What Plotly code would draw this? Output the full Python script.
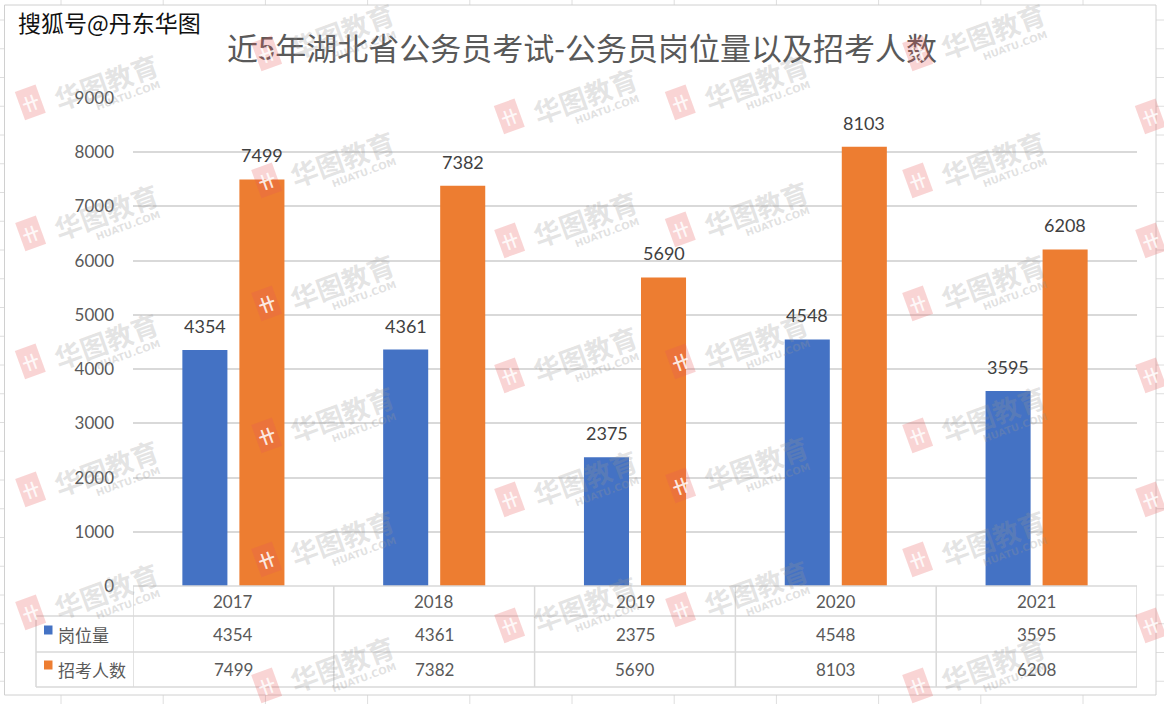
import plotly.graph_objects as go

# ---------------- data ----------------
years = ["2017", "2018", "2019", "2020", "2021"]
posts = [4354, 4361, 2375, 4548, 3595]          # 岗位量
applicants = [7499, 7382, 5690, 8103, 6208]     # 招考人数
series_names = ["岗位量", "招考人数"]
series_colors = ["#4472C4", "#ED7D31"]
y_ticks = [0, 1000, 2000, 3000, 4000, 5000, 6000, 7000, 8000, 9000]
title_text = "近5年湖北省公务员考试-公务员岗位量以及招考人数"
source_text = "搜狐号@丹东华图"
watermark_text = "华图教育"
watermark_sub = "HUATU.COM"

# ---------------- layout constants ----------------
W, H = 1164, 704
L, R, T, B = 133, 27, 98, 118
PW, PH = W - L - R, H - T - B
FONT = "Lato, 'Noto Sans CJK SC', sans-serif"
CJK = "'Noto Sans CJK SC', sans-serif"
GRID = "#d9d9d9"
TEXT = "#595959"


def px_x(px):
    return (px - L) / PW


def px_y(py):
    return (H - B - py) / PH


series = [posts, applicants]
xs = list(range(len(years)))

fig = go.Figure()
for name, vals, col in zip(series_names, series, series_colors):
    fig.add_trace(go.Bar(x=xs, y=vals, name=name, marker=dict(color=col, line=dict(width=0)),
                         hoverinfo="y+name"))

shapes = []
annotations = []


def note(x, y, text, font, xref="paper", yref="paper", **kw):
    d = dict(x=x, y=y, xref=xref, yref=yref, text=text, showarrow=False, font=font,
             xanchor=kw.pop("xanchor", "center"), yanchor=kw.pop("yanchor", "middle"))
    d.update(kw)
    annotations.append(d)


# Excel sheet grid in the background
for k in range(12):
    gx = 61 + 102.2 * k
    shapes.append(dict(type="line", xref="paper", yref="paper", x0=px_x(gx), x1=px_x(gx),
                       y0=px_y(0), y1=px_y(H), line=dict(color="#dedede", width=1), layer="below"))
for k in range(25):
    gy = 20 + 28.75 * k
    shapes.append(dict(type="line", xref="paper", yref="paper", x0=px_x(0), x1=px_x(W),
                       y0=px_y(gy), y1=px_y(gy), line=dict(color="#dedede", width=1), layer="below"))
# chart frame
shapes.append(dict(type="rect", xref="paper", yref="paper", x0=px_x(4.5), x1=px_x(1156),
                   y0=px_y(5), y1=px_y(695), fillcolor="white", line=dict(color="#d0d0d0", width=1),
                   layer="below"))

# data table
row_lines = [586, 616, 652, 687]
for i, ry in enumerate(row_lines):
    if i == 0:
        shapes.append(dict(type="line", xref="x", yref="paper", x0=-0.5, x1=len(years) - 0.5,
                           y0=px_y(ry), y1=px_y(ry), line=dict(color=GRID, width=1.5)))
    else:
        shapes.append(dict(type="line", xref="paper", yref="paper", x0=px_x(36), x1=1,
                           y0=px_y(ry), y1=px_y(ry), line=dict(color=GRID, width=1.5)))
for k in range(len(years) + 1):
    shapes.append(dict(type="line", xref="x", yref="paper", x0=k - 0.5, x1=k - 0.5,
                       y0=px_y(586), y1=px_y(687), line=dict(color=GRID, width=1.5)))
shapes.append(dict(type="line", xref="paper", yref="paper", x0=px_x(36), x1=px_x(36),
                   y0=px_y(616), y1=px_y(687), line=dict(color=GRID, width=1.5)))

row_centers = [601, 634, 669]
tfont = dict(family=FONT, size=17, color=TEXT)
for i, yr in enumerate(years):
    note(i, px_y(row_centers[0]), yr, tfont, xref="x")
    for s, vals in enumerate(series):
        note(i, px_y(row_centers[s + 1]), str(vals[i]), tfont, xref="x")
for s, (name, col) in enumerate(zip(series_names, series_colors)):
    cy = row_centers[s + 1] - 4
    shapes.append(dict(type="rect", xref="paper", yref="paper", x0=px_x(44), x1=px_x(52.5),
                       y0=px_y(cy - 4.5), y1=px_y(cy + 4.5), fillcolor=col, line=dict(width=0)))
    note(px_x(56), px_y(row_centers[s + 1]), name, dict(family=CJK, size=17, color=TEXT),
         xanchor="left")

# data labels above bars
offsets = [-28.5, 28.5]
for s, vals in enumerate(series):
    for i, v in enumerate(vals):
        note(i, v, str(v), dict(family=FONT, size=18, color="#404040"), xref="x", yref="y",
             xshift=offsets[s], yshift=11, yanchor="bottom")

# title and source
note(px_x(582), px_y(47), title_text, dict(family=CJK, size=31, color=TEXT))
note(px_x(16), px_y(22), source_text, dict(family=CJK, size=23, color="#111111"), xanchor="left")

# watermarks (logo centres in pixels)
wm_points = [(30, 103), (30, 233), (30, 362), (30, 489), (30, 612),
             (266, 53), (266, 180), (266, 303), (266, 435), (266, 559), (266, 685),
             (509, 117), (509, 240), (509, 375), (509, 499), (509, 625),
             (680, 103), (680, 230), (680, 362), (680, 485), (680, 609),
             (917, 53), (917, 180), (917, 303), (917, 435), (917, 559), (917, 685),
             (1150, 117), (1150, 240), (1150, 375), (1150, 499), (1150, 625)]
for (lx, ly) in wm_points:
    note(px_x(lx), px_y(ly), "<b>卄</b>", dict(family=CJK, size=17, color="rgba(255,255,255,0.85)"),
         textangle=-20, bgcolor="rgba(232,90,90,0.26)", borderpad=2)
    if lx + 140 < W and ly > 40:
        note(px_x(lx + 76), px_y(ly - 22), "<b>" + watermark_text + "</b>",
             dict(family=CJK, size=27, color="rgba(150,150,150,0.26)"), textangle=-20)
        note(px_x(lx + 98), px_y(ly - 8), "<b>" + watermark_sub + "</b>",
             dict(family="DejaVu Sans", size=10, color="rgba(150,150,150,0.28)"), textangle=-20)

fig.update_layout(
    width=W, height=H,
    margin=dict(l=L, r=R, t=T, b=B, autoexpand=False),
    paper_bgcolor="white", plot_bgcolor="rgba(0,0,0,0)",
    barmode="group", bargap=0.432, bargroupgap=0.21,
    showlegend=False,
    shapes=shapes, annotations=annotations,
    xaxis=dict(range=[-0.5, len(years) - 0.5], showticklabels=False, showgrid=False,
               zeroline=False, showline=False, fixedrange=True),
    yaxis=dict(range=[0, 9000], tickvals=y_ticks, ticktext=[str(v) for v in y_ticks],
               showgrid=True, gridcolor=GRID, gridwidth=1.5, zeroline=False, showline=False,
               ticks="", ticklabelstandoff=18, tickfont=dict(family=FONT, size=17, color=TEXT),
               fixedrange=True),
)

fig.write_html("out.html")
